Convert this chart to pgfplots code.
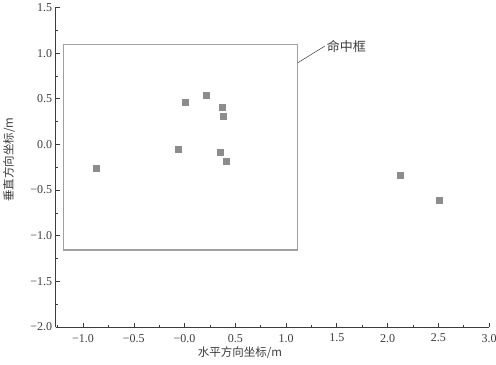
\documentclass[border=0pt]{standalone}
\usepackage{pgfplots}
\pgfplotsset{compat=1.18}
\usepackage{fontspec}
\setmainfont{Liberation Serif}
\newfontfamily\cjk{Noto Sans CJK SC}
\definecolor{ptgray}{RGB}{140,140,140}
\definecolor{boxgray}{RGB}{160,160,160}
\definecolor{axgray}{RGB}{60,60,60}
\begin{document}
\begin{tikzpicture}
\path[use as bounding box] (-55.7bp,-38bp) rectangle (440.3bp,327bp);
\begin{axis}[
  at={(0,0)}, anchor=south west,
  scale only axis, width=433.3bp, height=319.5bp,
  xmin=-1.27, xmax=3.0, ymin=-2, ymax=1.5,
  /pgf/number format/assume math mode=true,
  axis lines=left, axis line style={-, axgray, line width=0.7pt},
  tick align=inside,
  major tick length=4.5bp, minor tick length=2.5bp,
  tick style={axgray, line width=0.6pt},
  xtick={-1,-0.5,0,0.5,1,1.5,2,2.5,3},
  xticklabels={{\rmfamily −1.0},{\rmfamily −0.5},{\rmfamily −0.0},{\rmfamily 0.5},{\rmfamily 1.0},{\rmfamily 1.5},{\rmfamily 2.0},{\rmfamily 2.5},{\rmfamily 3.0}},
  ytick={-2,-1.5,-1,-0.5,0,0.5,1,1.5},
  yticklabels={{\rmfamily −2.0},{\rmfamily −1.5},{\rmfamily −1.0},{\rmfamily −0.5},{\rmfamily 0.0},{\rmfamily 0.5},{\rmfamily 1.0},{\rmfamily 1.5}},
  minor xtick={-1.25,-0.75,-0.25,0.25,0.75,1.25,1.75,2.25,2.75},
  minor ytick={-1.75,-1.25,-0.75,-0.25,0.25,0.75,1.25},
  xticklabel style={font=\rmfamily\fontsize{12bp}{13bp}\selectfont, text=axgray, yshift=-3.5bp},
  yticklabel style={font=\rmfamily\fontsize{12bp}{13bp}\selectfont, text=axgray},
  xlabel={\cjk 水平方向坐标/m},
  ylabel={\cjk 垂直方向坐标/m},
  xlabel style={at={(axis description cs:0.425,-0.081)}, anchor=center, font=\fontsize{11.5bp}{13bp}\selectfont, text=axgray},
  ylabel style={at={(axis description cs:-0.1078,0.523)}, anchor=center, font=\fontsize{11.5bp}{13bp}\selectfont, text=axgray},
  clip=false,
]
\addplot[boxgray, line width=1.3pt, no marks] coordinates {
 (-1.19,-1.158) (1.115,-1.158) (1.115,1.095) (-1.19,1.095) (-1.19,-1.158)} -- cycle;
\addplot[only marks, mark=square*, mark size=3bp, ptgray, mark options={draw=ptgray, fill=ptgray}] coordinates {
 (-0.866,-0.256)
 (0.010,0.467)
 (-0.066,-0.055)
 (0.214,0.543)
 (0.375,0.409)
 (0.378,0.313)
 (0.355,-0.084)
 (0.415,-0.183)
 (2.129,-0.333)
 (2.507,-0.610)
};
\draw[axgray, line width=0.5pt] (axis cs:1.115,0.894) -- (axis cs:1.382,1.077);
\node[anchor=west, inner sep=1bp, font=\fontsize{13bp}{15bp}\selectfont, text=axgray] at (axis cs:1.39,1.077) {\cjk 命中框};
\end{axis}
\end{tikzpicture}
\end{document}
